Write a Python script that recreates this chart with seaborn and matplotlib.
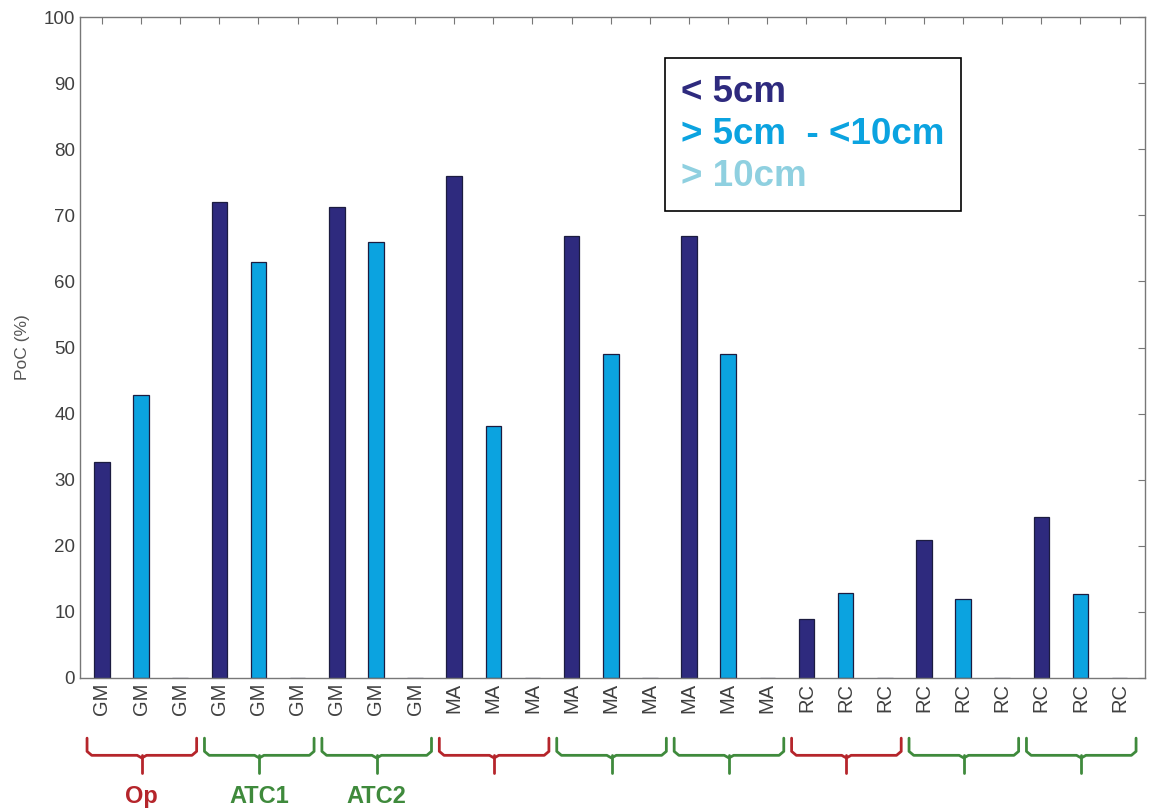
import numpy as np
import pandas as pd
import matplotlib.pyplot as plt
import seaborn as sns
from matplotlib.patches import Patch

# Data
methods = ['GM', 'MA', 'RC']
conditions = ['Op', 'ATC1', 'ATC2']
size_classes = ['< 5cm', '> 5cm  - <10cm', '> 10cm']

# PoC (%) per method / condition, one value per size class
poc_small = [32.7, 72.0, 71.3, 76.0, 66.8, 66.8, 9.0, 20.9, 24.3]
poc_mid = [42.8, 63.0, 66.0, 38.2, 49.0, 49.0, 12.8, 12.0, 12.7]
poc_large = [0, 0, 0, 0, 0, 0, 0, 0, 0]

group_labels = ['Op', 'ATC1', 'ATC2', '', '', '', '', '', '']
group_colors = ['#b5252b', '#3f8a3c', '#3f8a3c'] * 3

colors = ['#2e2a7e', '#0ba3e0', '#8fd0e0']

rows = []
pos = 0
for g in range(9):
    vals = [poc_small[g], poc_mid[g], poc_large[g]]
    for k in range(3):
        rows.append({'pos': pos, 'label': methods[g // 3], 'size': size_classes[k], 'poc': vals[k]})
        pos += 1
df = pd.DataFrame(rows)

sns.set_style('white')
plt.rcParams['font.family'] = ['Liberation Sans', 'DejaVu Sans']

fig = plt.figure(figsize=(11.51, 8.11), dpi=100)
ax = fig.add_axes([0.0695, 0.164, 0.925, 0.815])

sns.barplot(data=df, x='pos', y='poc', hue='size', hue_order=size_classes,
            palette=colors, saturation=1, dodge=False, width=0.4, edgecolor='#1c1c40',
            linewidth=0.9, ax=ax, legend=False)

ax.set_xlim(-0.56, 26.64)
ax.set_ylim(0, 100)
ax.set_yticks(np.arange(0, 101, 10))
ax.set_xticks(df['pos'])
ax.set_xticklabels(df['label'], rotation=90, fontsize=14.5, color='#404040')
ax.tick_params(axis='y', labelsize=13.5, labelcolor='#404040')
ax.tick_params(direction='in', top=True, right=True, length=5, color='#777777')
ax.set_xlabel('')
ax.set_ylabel('PoC (%)', fontsize=12.5, color='#555555', labelpad=10)
for s in ax.spines.values():
    s.set_color('#777777')
    s.set_linewidth(1.0)

# legend box with coloured text
handles = [Patch(visible=False) for _ in size_classes]
leg = ax.legend(handles, size_classes, loc='upper left', bbox_to_anchor=(0.549, 0.938),
                borderaxespad=0, handlelength=0, handletextpad=0, fancybox=False,
                edgecolor='black', framealpha=1, labelcolor=colors, borderpad=0.45,
                labelspacing=0.2, prop={'size': 26.5, 'weight': 'bold'})
leg.get_frame().set_linewidth(1.2)

# braces under the groups
trans = ax.get_xaxis_transform()
for g in range(9):
    x0 = g * 3 - 0.38
    x1 = g * 3 + 2 + 0.42
    xm = (x0 + x1) / 2
    c = group_colors[g]
    y_top, y_mid, y_tip = -0.091, -0.117, -0.144
    r = 0.12
    ax.plot([x0, x0, x0 + r, xm - r, xm, xm + r, x1 - r, x1, x1],
            [y_top, y_mid + 0.006, y_mid, y_mid, y_mid - 0.004, y_mid, y_mid, y_mid + 0.006, y_top],
            transform=trans, color=c, lw=2, clip_on=False, solid_joinstyle='round')
    ax.plot([xm, xm], [y_mid, y_tip], transform=trans, color=c, lw=2, clip_on=False)
    if group_labels[g]:
        ax.text(xm, -0.18, group_labels[g], transform=trans, ha='center', va='center',
                fontsize=17, fontweight='bold', color=c)

fig.savefig('out.png', dpi=100)
